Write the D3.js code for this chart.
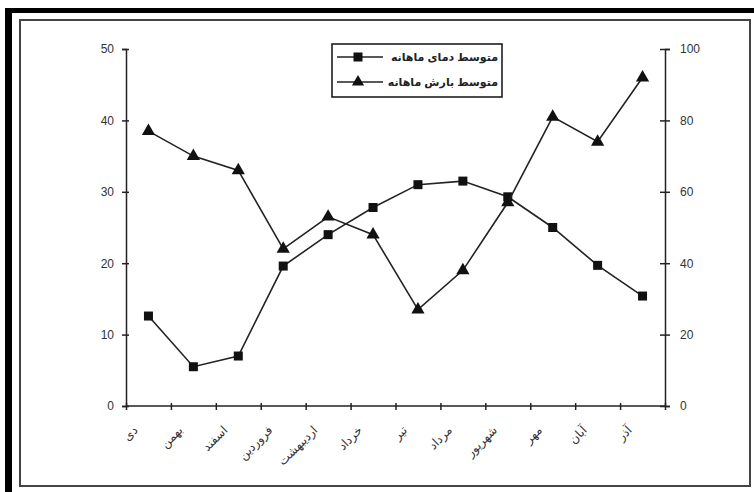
<!DOCTYPE html>
<html>
<head>
<meta charset="utf-8">
<script src="https://cdn.jsdelivr.net/npm/d3@7"></script>
<style>
  body { margin: 0; background: #fff; }
  svg { display: block; font-family: "Liberation Sans", Arial, "DejaVu Sans", sans-serif; }
  .axis path, .axis line { stroke: #222; stroke-width: 1.5; }
  .axis text { fill: #333; font-size: 12px; }
  .line { fill: none; stroke: #222; stroke-width: 1.6; }
</style>
</head>
<body>
<svg id="chart" width="754" height="492"></svg>
<script>
// months of the Persian calendar, starting with Dey
const MONTHS = ['دی', 'بهمن', 'اسفند', 'فروردین', 'اردیبهشت', 'خرداد', 'تیر', 'مرداد', 'شهریور', 'مهر', 'آبان', 'آذر']
const TEMP = [12.6, 5.5, 7.0, 19.6, 24.0, 27.8, 31.0, 31.5, 29.3, 25.0, 19.7, 15.4]
const RAIN = [77, 70, 66, 44, 53, 48, 27, 38, 57, 81, 74, 92]
const LEFT_TICKS = [0, 10, 20, 30, 40, 50]
const RIGHT_TICKS = [0, 20, 40, 60, 80, 100]
const LEGEND_LABELS = ['متوسط دمای ماهانه', 'متوسط بارش ماهانه']

const $svg = d3.select('#chart')
const width = 754, height = 492

const MARGIN = {
  top: 49,
  right: 89,
  bottom: 86,
  left: 126
}
const boundedWidth = width - MARGIN.left - MARGIN.right
const boundedHeight = height - MARGIN.top - MARGIN.bottom

const xScale = d3.scaleBand()
  .domain(MONTHS)
  .range([0, boundedWidth])
const xEdge = d3.scaleLinear()
  .domain([0, MONTHS.length])
  .range([0, boundedWidth])
const yLeft = d3.scaleLinear()
  .domain([0, 50])
  .range([boundedHeight, 0])
const yRight = d3.scaleLinear()
  .domain([0, 100])
  .range([boundedHeight, 0])

function drawFrame(){
  // thick black edge top and left
  $svg.append('rect')
    .attr('x', 5).attr('y', 8)
    .attr('width', width - 5).attr('height', 5)
    .attr('fill', '#000')
  $svg.append('rect')
    .attr('x', 5).attr('y', 8)
    .attr('width', 7).attr('height', height - 8)
    .attr('fill', '#000')
  $svg.append('rect')
    .attr('x', 20).attr('y', 20)
    .attr('width', 730).attr('height', 466)
    .attr('fill', 'none')
    .attr('stroke', '#444')
    .attr('stroke-width', 2)
}

function drawAxes($g){
  const $yL = $g.append('g')
    .attr('class', 'axis')
    .call(d3.axisLeft(yLeft).tickValues(LEFT_TICKS).tickSize(4).tickPadding(8))
  $yL.selectAll('.tick line').attr('x1', 3)

  const $yR = $g.append('g')
    .attr('class', 'axis')
    .attr('transform', `translate(${boundedWidth}, 0)`)
    .call(d3.axisRight(yRight).tickValues(RIGHT_TICKS).tickSize(5).tickPadding(10))
  $yR.selectAll('.tick line').attr('x1', -5)

  const $x = $g.append('g')
    .attr('class', 'axis')
    .attr('transform', `translate(0, ${boundedHeight})`)
    .call(d3.axisBottom(xEdge).ticks(MONTHS.length).tickSize(4).tickFormat(''))
  $x.selectAll('.tick line').attr('y1', -3)
  $x.select('.domain').attr('d', `M0,0H${boundedWidth}`)

  // rotated month labels
  $g.append('g')
    .selectAll('text')
    .data(MONTHS)
    .join('text')
      .attr('transform', d => `translate(${xScale(d) + xScale.bandwidth() / 2 - 10}, ${boundedHeight + 25}) rotate(-45)`)
      .attr('text-anchor', 'end')
      .attr('font-size', 12)
      .attr('fill', '#333')
      .text(d => d)
}

function marker($sel, type, size){
  if (type === 'square') {
    $sel.append('rect')
      .attr('x', -size / 2).attr('y', -size / 2)
      .attr('width', size).attr('height', size)
      .style('fill', '#111')
  } else {
    $sel.append('path')
      .attr('d', d3.symbol(d3.symbolTriangle, size * size * 0.45)())
      .style('fill', '#111')
  }
}

function drawSeries($g, values, yScale, type){
  const cx = (d, i) => xScale(MONTHS[i]) + xScale.bandwidth() / 2
  const lineGen = d3.line()
    .x(cx)
    .y(d => yScale(d))
  const $s = $g.append('g')
  $s.append('path')
    .attr('class', 'line')
    .datum(values)
    .attr('d', lineGen)
  $s.selectAll('.pt')
    .data(values)
    .join('g')
      .attr('class', 'pt')
      .attr('transform', (d, i) => `translate(${cx(d, i)}, ${yScale(d)})`)
      .each(function(){ marker(d3.select(this), type, type === 'square' ? 9 : 13) })
}

function drawLegend(){
  const $lg = $svg.append('g').attr('class', 'legend')
  $lg.append('rect')
    .attr('x', 332).attr('y', 44)
    .attr('width', 170).attr('height', 53)
    .attr('fill', '#fff')
    .attr('stroke', '#111')
    .attr('stroke-width', 1.5)
  const types = ['square', 'triangle']
  LEGEND_LABELS.forEach((label, i) => {
    const y = 57 + i * 25
    $lg.append('path').attr('class', 'line').attr('d', `M337,${y}H383`)
    const $m = $lg.append('g').attr('transform', `translate(358, ${y})`)
    marker($m, types[i], i === 0 ? 9 : 12)
    $lg.append('text')
      .attr('x', 498).attr('y', y + 4)
      .attr('text-anchor', 'end')
      .attr('font-size', 11)
      .attr('font-weight', 'bold')
      .attr('fill', '#222')
      .text(label)
  })
}

function drawChart(){
  drawFrame()
  const $gVis = $svg.append('g')
    .attr('transform', `translate(${MARGIN.left}, ${MARGIN.top})`)
  drawAxes($gVis)
  drawSeries($gVis, TEMP, yLeft, 'square')
  drawSeries($gVis, RAIN, yRight, 'triangle')
  drawLegend()
}

drawChart()
</script>
</body>
</html>
